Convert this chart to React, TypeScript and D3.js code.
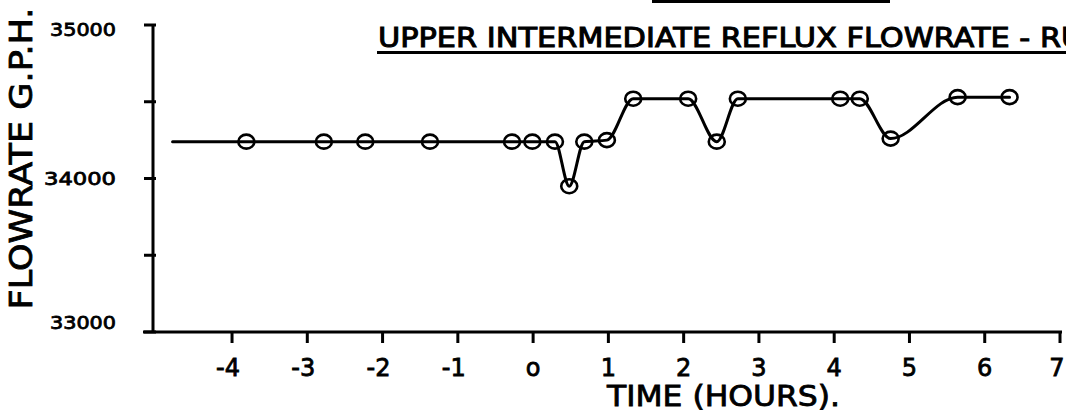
import React from "react";
import * as d3 from "d3";

// Upper intermediate reflux flowrate readings (hours relative to change, G.P.H.)
const hours = [-3.81, -2.78, -2.23, -1.37, -0.28, -0.01, 0.29, 0.48, 0.68, 0.98, 1.33, 2.06, 2.44, 2.72, 4.08, 4.34, 4.75, 5.64, 6.33];
const flow = [34240, 34240, 34240, 34240, 34240, 34240, 34240, 33950, 34240, 34250, 34520, 34520, 34240, 34520, 34520, 34520, 34260, 34530, 34530];
// trace drawn in from the left before the first reading
const leadInHour = -4.79;
const leadInFlow = 34240;

const xTicks = [-4, -3, -2, -1, 0, 1, 2, 3, 4, 5, 6, 7];
const xTickLabels = ["-4", "-3", "-2", "-1", "o", "1", "2", "3", "4", "5", "6", "7"];
const yTicks = [33000, 33500, 34000, 34500, 35000];
const yLabelled = [33000, 34000, 35000];

const titleText = "UPPER INTERMEDIATE REFLUX FLOWRATE - RUN";
const yTitle = "FLOWRATE G.P.H.";
const xTitle = "TIME (HOURS).";

const W = 1066;
const H = 417;
const FONT = "'DejaVu Sans', sans-serif";

export default function App() {
  const x = d3.scaleLinear().domain([-5.05, 7]).range([153, 1060]);
  const y = d3.scaleLinear().domain([33000, 35000]).range([332, 25]);

  const pts: [number, number][] = [[leadInHour, leadInFlow], ...hours.map((h, i) => [h, flow[i]] as [number, number])];
  const line = d3
    .line<[number, number]>()
    .x((d) => x(d[0]))
    .y((d) => y(d[1]))
    .curve(d3.curveMonotoneX);

  const ink = "#000";

  return (
    <svg
      width={W}
      height={H}
      viewBox={`0 0 ${W} ${H}`}
      style={{ position: "absolute", left: 0, top: 0, display: "block", overflow: "hidden", background: "#fff" }}
    >
      <rect x={0} y={0} width={W} height={H} fill="#fff" />

      {/* underline of the heading above, partly in view */}
      <line x1={652} x2={890} y1={1.5} y2={1.5} stroke={ink} strokeWidth={3} />

      {/* title */}
      <text
        x={378}
        y={47}
        fontFamily={FONT}
        fontSize={26}
        textLength={728}
        lengthAdjust="spacingAndGlyphs"
        fill={ink}
        stroke={ink}
        strokeWidth={1}
      >
        {titleText}
      </text>
      <line x1={377} x2={W} y1={52.5} y2={52.5} stroke={ink} strokeWidth={3} />

      {/* y axis */}
      <line x1={x(-5.05)} x2={x(-5.05)} y1={y(35000)} y2={y(33000)} stroke={ink} strokeWidth={3} />
      {yTicks.map((v) => (
        <line key={v} x1={x(-5.05) - 9} x2={x(-5.05) + 3} y1={y(v)} y2={y(v)} stroke={ink} strokeWidth={3} />
      ))}
      {yLabelled.map((v) => (
        <text
          key={v}
          x={116}
          y={v === 33000 ? y(v) - 10 : v === 35000 ? y(v) + 4 : y(v)}
          textAnchor="end"
          dominantBaseline="central"
          fontFamily={FONT}
          fontSize={18}
          textLength={v === 34000 ? 72 : 66}
          lengthAdjust="spacingAndGlyphs"
          fill={ink}
          stroke={ink}
          strokeWidth={0.8}
        >
          {String(v)}
        </text>
      ))}
      <text
        transform={`translate(21, ${(y(35000) + y(33000)) / 2 - 20}) rotate(-90)`}
        textAnchor="middle"
        dominantBaseline="central"
        fontFamily={FONT}
        fontSize={32}
        textLength={302}
        lengthAdjust="spacingAndGlyphs"
        fill={ink}
        stroke={ink}
        strokeWidth={0.8}
      >
        {yTitle}
      </text>

      {/* x axis */}
      <line x1={143} x2={1062} y1={y(33000)} y2={y(33000)} stroke={ink} strokeWidth={3} />
      {xTicks.map((t, i) => (
        <g key={t}>
          <line x1={x(t)} x2={x(t)} y1={y(33000)} y2={y(33000) + 11} stroke={ink} strokeWidth={3} />
          <text
            x={Math.min(x(t) - (t < 0 ? 4 : 0), W - 9)}
            y={368}
            textAnchor="middle"
            dominantBaseline="central"
            fontFamily={FONT}
            fontSize={24}
            fill={ink}
            stroke={ink}
            strokeWidth={0.8}
          >
            {xTickLabels[i]}
          </text>
        </g>
      ))}
      <text
        x={607}
        y={406}
        fontFamily={FONT}
        fontSize={28}
        textLength={233}
        lengthAdjust="spacingAndGlyphs"
        fill={ink}
        stroke={ink}
        strokeWidth={0.8}
      >
        {xTitle}
      </text>

      {/* flowrate trace */}
      <path d={line(pts) ?? ""} fill="none" stroke={ink} strokeWidth={3} strokeLinejoin="round" strokeLinecap="round" />
      {hours.map((h, i) => (
        <ellipse key={i} cx={x(h)} cy={y(flow[i])} rx={8} ry={7} fill="none" stroke={ink} strokeWidth={2.6} />
      ))}
    </svg>
  );
}
